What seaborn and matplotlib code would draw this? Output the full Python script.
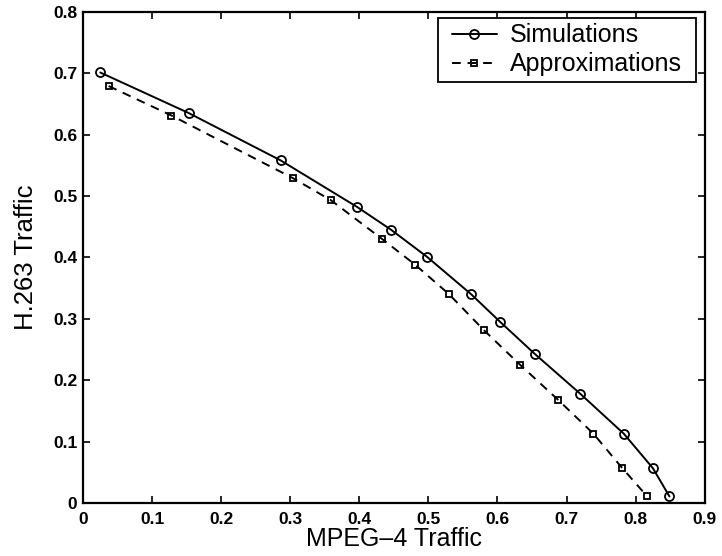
import matplotlib
matplotlib.use("Agg")
import matplotlib.pyplot as plt
import matplotlib.patches as mpatches
import seaborn as sns
import pandas as pd

# Offered load of each traffic class at the capacity boundary
sim_mpeg4 = [0.025, 0.153, 0.286, 0.397, 0.446, 0.498, 0.562, 0.604, 0.654, 0.720, 0.783, 0.825, 0.849]
sim_h263 = [0.701, 0.635, 0.558, 0.482, 0.445, 0.401, 0.340, 0.295, 0.243, 0.178, 0.113, 0.057, 0.011]

apx_mpeg4 = [0.037, 0.128, 0.304, 0.359, 0.433, 0.481, 0.530, 0.580, 0.633, 0.688, 0.739, 0.780, 0.816]
apx_h263 = [0.679, 0.631, 0.529, 0.493, 0.430, 0.388, 0.340, 0.282, 0.225, 0.168, 0.113, 0.058, 0.012]

x_ticks = [0, 0.1, 0.2, 0.3, 0.4, 0.5, 0.6, 0.7, 0.8, 0.9]
y_ticks = [0, 0.1, 0.2, 0.3, 0.4, 0.5, 0.6, 0.7, 0.8]
x_ticklabels = ["0", "0.1", "0.2", "0.3", "0.4", "0.5", "0.6", "0.7", "0.8", "0.9"]
y_ticklabels = ["0", "0.1", "0.2", "0.3", "0.4", "0.5", "0.6", "0.7", "0.8"]

sns.set_theme(style="ticks")
plt.rcParams["font.family"] = ["Liberation Sans", "DejaVu Sans"]
plt.rcParams["text.color"] = "black"
plt.rcParams["axes.labelcolor"] = "black"

sim_df = pd.DataFrame({"mpeg4": sim_mpeg4, "h263": sim_h263})
apx_df = pd.DataFrame({"mpeg4": apx_mpeg4, "h263": apx_h263})

fig = plt.figure(figsize=(7.22, 5.56), dpi=100)
ax = fig.add_axes([0.115, 0.095, 0.861, 0.884])

sns.lineplot(data=sim_df, x="mpeg4", y="h263", ax=ax, sort=False, color="black",
             linewidth=1.4, marker="o", markersize=6.5, markerfacecolor="none",
             markeredgecolor="black", markeredgewidth=1.3, label="Simulations")
sns.lineplot(data=apx_df, x="mpeg4", y="h263", ax=ax, sort=False, color="black",
             linewidth=1.4, linestyle=(0, (4.5, 3.5)), marker="s", markersize=4.5,
             markerfacecolor="none", markeredgecolor="black", markeredgewidth=1.3,
             label="Approximations")

ax.set_xlim(0, 0.9)
ax.set_ylim(0, 0.8)
ax.set_xticks(x_ticks)
ax.set_yticks(y_ticks)
ax.set_xticklabels(x_ticklabels, fontsize=12.5, fontweight="bold", color="black")
ax.set_yticklabels(y_ticklabels, fontsize=12.5, fontweight="bold", color="black")
ax.tick_params(direction="in", length=5, width=1.2, top=True, right=True, colors="black")
ax.tick_params(axis="x", pad=6)
ax.tick_params(axis="y", pad=4)

for s in ax.spines.values():
    s.set_visible(True)
    s.set_linewidth(1.6)
    s.set_color("black")

ax.set_xlabel("MPEG\u20134 Traffic", fontsize=18, labelpad=0)
ax.set_ylabel("H.263 Traffic", fontsize=18.5, labelpad=11)

# Legend entries without their own frame; a box with wider side margins is drawn round them
leg = ax.legend(loc="upper right", bbox_to_anchor=(0.945, 0.958),
                bbox_transform=fig.transFigure, fontsize=18, frameon=False,
                handlelength=1.8, handletextpad=0.55, borderpad=0.0,
                labelspacing=0.2, borderaxespad=0.0)

fig.canvas.draw()
bb = leg.get_window_extent().transformed(fig.transFigure.inverted())
pad_l, pad_r = 14 / 722, 14 / 722
pad_t, pad_b = 5 / 556, 6 / 556
frame = mpatches.Rectangle((bb.x0 - pad_l, bb.y0 - pad_b),
                           bb.width + pad_l + pad_r, bb.height + pad_t + pad_b,
                           transform=fig.transFigure, facecolor="white",
                           edgecolor="black", linewidth=1.3, zorder=4)
fig.add_artist(frame)
leg.set_zorder(5)
fig.add_artist(leg)

fig.savefig("out.png", dpi=100, facecolor="white")
